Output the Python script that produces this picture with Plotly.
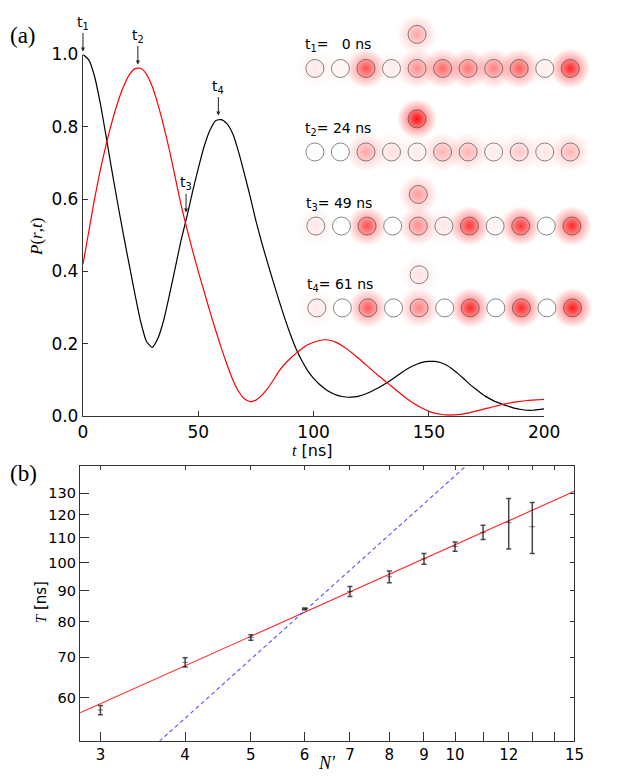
import math
import plotly.graph_objects as go

W, H = 623, 782

# ---------- (a) P(r,t) vs t ----------
t_ns = [i * 2.5 for i in range(81)]
p_black = [1.000, 0.985, 0.940, 0.865, 0.775, 0.680, 0.590, 0.503, 0.420, 0.338,
           0.262, 0.207, 0.190, 0.215, 0.265, 0.335, 0.410, 0.485, 0.550, 0.620,
           0.685, 0.745, 0.790, 0.817, 0.820, 0.808, 0.780, 0.730, 0.670, 0.607,
           0.540, 0.480, 0.425, 0.372, 0.320, 0.270, 0.225, 0.185, 0.152, 0.125,
           0.104, 0.088, 0.075, 0.065, 0.058, 0.054, 0.052, 0.053, 0.056, 0.061,
           0.068, 0.076, 0.085, 0.095, 0.106, 0.117, 0.128, 0.137, 0.144, 0.149,
           0.151, 0.151, 0.148, 0.141, 0.131, 0.118, 0.104, 0.089, 0.076, 0.064,
           0.053, 0.044, 0.037, 0.031, 0.026, 0.021, 0.018, 0.016, 0.016, 0.018,
           0.020]
p_red = [0.420, 0.510, 0.600, 0.680, 0.750, 0.812, 0.866, 0.910, 0.943, 0.961,
         0.962, 0.946, 0.912, 0.862, 0.802, 0.735, 0.660, 0.585, 0.520, 0.458,
         0.400, 0.345, 0.290, 0.238, 0.188, 0.142, 0.100, 0.068, 0.048, 0.040,
         0.044, 0.057, 0.076, 0.099, 0.124, 0.144, 0.160, 0.174, 0.187, 0.197,
         0.204, 0.209, 0.211, 0.209, 0.203, 0.194, 0.183, 0.170, 0.157, 0.143,
         0.129, 0.115, 0.102, 0.089, 0.076, 0.063, 0.050, 0.039, 0.029, 0.020,
         0.013, 0.008, 0.005, 0.003, 0.003, 0.004, 0.006, 0.009, 0.013, 0.017,
         0.021, 0.025, 0.029, 0.033, 0.036, 0.039, 0.041, 0.043, 0.044, 0.045,
         0.046]

mark_names = ["t<sub>1</sub>", "t<sub>2</sub>", "t<sub>3</sub>", "t<sub>4</sub>"]
mark_t = [0.0, 23.8, 44.7, 58.7]
mark_p = [1.0, 0.964, 0.555, 0.823]

# snapshots: site occupation (0..1) along the chain, plus the extra site above site 4
snap_labels = ["t<sub>1</sub>= \u20070 ns", "t<sub>2</sub>= 24 ns",
               "t<sub>3</sub>= 49 ns", "t<sub>4</sub>= 61 ns"]
chain_sites = list(range(11))
top_site = 4
chain_occ = [
    [0.10, 0.05, 0.70, 0.08, 0.45, 0.60, 0.55, 0.50, 0.65, 0.08, 0.85],
    [0.00, 0.00, 0.35, 0.12, 0.08, 0.30, 0.30, 0.08, 0.22, 0.10, 0.30],
    [0.10, 0.00, 0.70, 0.00, 0.45, 0.10, 0.80, 0.05, 0.80, 0.00, 0.85],
    [0.10, 0.00, 0.65, 0.00, 0.50, 0.00, 0.85, 0.00, 0.85, 0.00, 0.90],
]
top_occ = [0.35, 0.95, 0.40, 0.12]

# ---------- (b) T vs N' ----------
n_sites = [3, 4, 5, 6, 7, 8, 9, 10, 11, 12, 13]
T_ns = [57.3, 68.6, 75.4, 84.0, 89.7, 94.8, 101.5, 106.3, 112.2, 116.4, 114.6]
T_err = [1.0, 1.2, 0.8, 0.3, 1.7, 2.1, 2.1, 1.9, 3.0, 11.1, 11.0]
fit_n = [2.8, 15.0]
fit_T = [56.7, 131.0]
lin_n = [3.6, 10.8]
lin_T = [50.0, 150.0]

n_ticks = list(range(3, 16))
n_ticktext = [str(v) if v not in (11, 13, 14) else "" for v in n_ticks]
T_ticks = [60, 70, 80, 90, 100, 110, 120, 130]

SANS = "DejaVu Sans"
SERIF = "Liberation Serif"


def px(x):
    return x / W


def py(y):
    return 1 - y / H


def mix(a):
    g = int(round(255 * (1 - a)))
    return f"rgb(255,{g},{g})"


fig = go.Figure()

# panel (a) curves
fig.add_trace(go.Scatter(x=t_ns, y=p_black, mode="lines", xaxis="x", yaxis="y",
                         line=dict(color="black", width=1.2, shape="spline", smoothing=0.6),
                         cliponaxis=False, hoverinfo="skip", showlegend=False))
fig.add_trace(go.Scatter(x=t_ns, y=p_red, mode="lines", xaxis="x", yaxis="y",
                         line=dict(color="#ff0000", width=1.2, shape="spline", smoothing=0.6),
                         cliponaxis=False, hoverinfo="skip", showlegend=False))

# panel (b)
fig.add_trace(go.Scatter(x=fit_n, y=fit_T, mode="lines", xaxis="x2", yaxis="y2",
                         line=dict(color="rgba(255,0,0,0.85)", width=1.1),
                         hoverinfo="skip", showlegend=False))
fig.add_trace(go.Scatter(x=lin_n, y=lin_T, mode="lines", xaxis="x2", yaxis="y2",
                         line=dict(color="rgba(40,40,255,0.8)", width=1.1, dash="4px,3px"),
                         hoverinfo="skip", showlegend=False))
fig.add_trace(go.Scatter(x=n_sites, y=T_ns, mode="markers", xaxis="x2", yaxis="y2",
                         marker=dict(symbol="line-ew", size=4,
                                     line=dict(color="rgba(0,0,0,0.5)", width=1)),
                         error_y=dict(type="data", array=T_err, visible=True,
                                      color="rgba(0,0,0,0.72)", thickness=1.5, width=2.5),
                         hoverinfo="skip", showlegend=False))
# carrier for the mirrored top/right tick axes
fig.add_trace(go.Scatter(x=fit_n, y=fit_T, mode="lines", xaxis="x3", yaxis="y3",
                         line=dict(width=0), opacity=0, hoverinfo="skip", showlegend=False))

# snapshot insets
row_chain_y = [60.0, 145.7, 221.7, 305.7]
row_top_y = [25.0, 111.7, 189.3, 271.7]
row_x0 = [320.7, 320.7, 321.7, 322.7]
row_x10 = [585.0, 585.0, 586.7, 587.3]

layout_axes = {}
annotations = []
for k in range(4):
    ax_id = 4 + k
    xs = chain_sites + [top_site]
    ys = [0] * len(chain_sites) + [1]
    occ = chain_occ[k] + [top_occ[k]]
    half = (row_x10[k] - row_x0[k]) / 20
    dy = row_chain_y[k] - row_top_y[k]
    layout_axes[f"xaxis{ax_id}"] = dict(domain=[px(row_x0[k] - half), px(row_x10[k] + half)],
                                        range=[-0.5, 10.5], visible=False, anchor=f"y{ax_id}",
                                        fixedrange=True)
    layout_axes[f"yaxis{ax_id}"] = dict(domain=[py(row_chain_y[k] + dy / 2), py(row_top_y[k] - dy / 2)],
                                        range=[-0.5, 1.5], visible=False, anchor=f"x{ax_id}",
                                        fixedrange=True)
    # glow
    fig.add_trace(go.Scatter(x=xs, y=ys, mode="markers", xaxis=f"x{ax_id}", yaxis=f"y{ax_id}",
                             marker=dict(size=40, color="rgba(255,0,0,0)",
                                         gradient=dict(type="radial",
                                                       color=[f"rgba(255,0,0,{0.75 * a:.3f})" for a in occ]),
                                         line=dict(width=0)),
                             cliponaxis=False, hoverinfo="skip", showlegend=False))
    # sites
    fig.add_trace(go.Scatter(x=xs, y=ys, mode="markers", xaxis=f"x{ax_id}", yaxis=f"y{ax_id}",
                             marker=dict(size=18, color=[mix(0.55 * a) for a in occ],
                                         gradient=dict(type="radial", color=[mix(a) for a in occ]),
                                         line=dict(color="rgba(70,70,70,0.65)", width=1)),
                             cliponaxis=False, hoverinfo="skip", showlegend=False))
    annotations.append(dict(text=snap_labels[k], x=-0.47, y=0.7, xref=f"x{ax_id}", yref=f"y{ax_id}",
                            xanchor="left", yanchor="middle", showarrow=False,
                            font=dict(family=SANS, size=14, color="black")))

# arrows marking t1..t4
for name, tt, pp in zip(mark_names, mark_t, mark_p):
    annotations.append(dict(text=name, x=tt, y=pp, xref="x", yref="y", ax=0, ay=-32,
                            showarrow=True, arrowhead=2, arrowsize=0.8, arrowwidth=1,
                            arrowcolor="#222", standoff=3,
                            font=dict(family=SANS, size=14, color="black")))


def paper_text(text, x, y, family, size, angle=0):
    return dict(text=text, x=px(x), y=py(y), xref="paper", yref="paper", showarrow=False,
                xanchor="center", yanchor="middle", textangle=angle,
                font=dict(family=family, size=size, color="black"))


# panel labels and axis titles
annotations += [
    paper_text("(a)", 19, 26, SERIF, 23),
    paper_text("(b)", 19, 476, SERIF, 23),
    paper_text("<i>P</i>(<i>r</i>,<i>t</i>)", 32, 233, SERIF, 17, -90),
    paper_text(f"<span style='font-family:{SERIF}'><i>t</i></span> [ns]", 318, 452, SANS, 16),
    paper_text(f"<span style='font-family:{SERIF}'><i>T</i></span> [ns]", 38, 608, SANS, 15, -90),
    paper_text("<i>N\u2032</i>", 333, 773, SERIF, 18),
]

axis_line = dict(showline=True, linecolor="#333", linewidth=1.3, showgrid=False, zeroline=False,
                 ticks="inside", tickcolor="#333", tickwidth=1, fixedrange=True)

fig.update_layout(
    width=W, height=H,
    margin=dict(l=0, r=0, t=0, b=0),
    paper_bgcolor="white", plot_bgcolor="rgba(0,0,0,0)",
    showlegend=False,
    xaxis=dict(**axis_line, domain=[px(80.7), px(558.0)], range=[0, 200], anchor="y",
               tickvals=[0, 50, 100, 150, 200], ticklen=5,
               tickfont=dict(family=SANS, size=17, color="black")),
    yaxis=dict(**axis_line, domain=[py(416.7), py(45.7)], range=[0, 1.0], anchor="x",
               tickvals=[0.0, 0.2, 0.4, 0.6, 0.8, 1.0], ticktext=["0.0", "0.2", "0.4", "0.6", "0.8", "1.0"],
               ticklen=5, tickfont=dict(family=SANS, size=17, color="black")),
    xaxis2=dict(**axis_line, type="log", domain=[px(77.7), px(589.3)],
                range=[math.log10(2.8), math.log10(15)], anchor="y2",
                tickvals=n_ticks, ticktext=n_ticktext, ticklen=9,
                tickfont=dict(family=SANS, size=15, color="black")),
    yaxis2=dict(**axis_line, type="log", domain=[py(750.0), py(468.3)],
                range=[math.log10(51), math.log10(144)], anchor="x2",
                tickvals=T_ticks, ticklen=9,
                tickfont=dict(family=SANS, size=14.5, color="black")),
    xaxis3=dict(**axis_line, type="log", overlaying="x2", side="top", anchor="y2",
                range=[math.log10(2.8), math.log10(15)], tickvals=n_ticks, ticklen=4,
                showticklabels=False),
    yaxis3=dict(**axis_line, type="log", overlaying="y2", side="right", anchor="x2",
                range=[math.log10(51), math.log10(144)], tickvals=T_ticks, ticklen=4,
                showticklabels=False),
    annotations=annotations,
    **layout_axes,
)

# the page's default body margin would push the 623x782 figure off the window
fig.write_html("out.html", config={"displayModeBar": False},
               post_script="document.body.style.margin='0';document.body.style.overflow='hidden';")
